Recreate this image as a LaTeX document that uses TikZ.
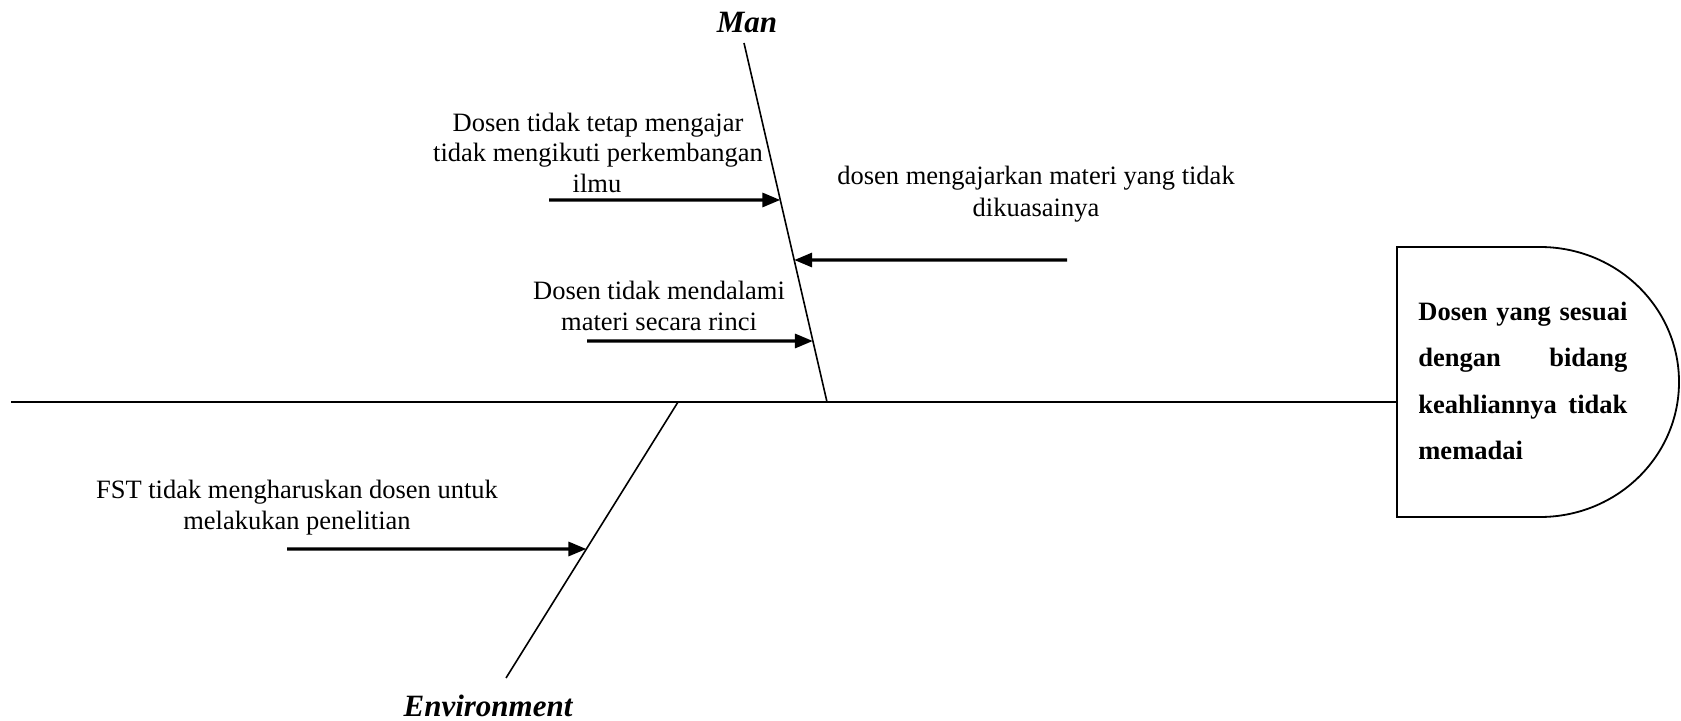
\documentclass[tikz,border=0pt]{standalone}
\usepackage{fontspec}
\setmainfont{Liberation Serif}
\usetikzlibrary{arrows.meta,calc}

\begin{document}
\begin{tikzpicture}[x=0.5pt,y=-0.5pt,
  spine/.style={line width=0.9pt},
  bone/.style={line width=0.8pt},
  cause/.style={line width=1.6pt,-{Triangle[length=9pt,width=7pt]}},
  txt/.style={font=\fontsize{13.25}{15.5}\selectfont, inner sep=0pt, anchor=base},
  cat/.style={font=\fontsize{15.5}{18}\selectfont\bfseries\itshape, inner sep=0pt, anchor=base},
  eff/.style={font=\fontsize{13.25}{16}\selectfont\bfseries, inner sep=0pt, anchor=base west},
]
\useasboundingbox (0,0) rectangle (1681,721);

% effect box: square left side, rounded right side
\draw[line width=0.9pt] (1397,247) -- (1540,247)
  arc[start angle=-90, end angle=90, x radius=139, y radius=135]
  -- (1397,517) -- cycle;
\coordinate (boxJoin) at (1397,402);
\node[eff] (e1) at (1418,321) {\hbox to 104.5pt{Dosen\hfill yang\hfill sesuai}};
\node[eff] (e2) at (1418,367) {\hbox to 104.5pt{dengan\hfill bidang}};
\node[eff] (e3) at (1418,414) {\hbox to 104.5pt{keahliannya\hfill tidak}};
\node[eff] (e4) at (1418,459) {memadai};

% main spine
\coordinate (spineL) at (11,402);
\draw[spine] (spineL) -- (boxJoin);

% Man bone
\coordinate (manTop) at (744,43);
\coordinate (manFoot) at (827,402);
\draw[bone] (manTop) -- (manFoot);
\node[cat] (man) at (747,33) {Man};

% Environment bone
\coordinate (envTop) at (678,402);
\coordinate (envEnd) at (506,678);
\draw[bone] (envTop) -- (envEnd);
\node[cat] (env) at (488,716) {Environment};

% causes on the Man bone
\coordinate (s1) at (549,200);
\draw[cause] (s1) -- ($(manTop)!0.4373!(manFoot)$);
\node[txt] (c1a) at (598,132) {Dosen tidak tetap mengajar};
\node[txt] (c1b) at (598,162) {tidak mengikuti perkembangan};
\node[txt] (c1c) at (597,193) {ilmu};

\coordinate (s2) at (1067,260);
\draw[cause] (s2) -- ($(manTop)!0.6045!(manFoot)$);
\node[txt] (c2a) at (1036,185) {dosen mengajarkan materi yang tidak};
\node[txt] (c2b) at (1036,217) {dikuasainya};

\coordinate (s3) at (587,341);
\draw[cause] (s3) -- ($(manTop)!0.8301!(manFoot)$);
\node[txt] (c3a) at (659,300) {Dosen tidak mendalami};
\node[txt] (c3b) at (659,331) {materi secara rinci};

% cause on the Environment bone
\coordinate (s4) at (287,549);
\draw[cause] (s4) -- ($(envTop)!0.5326!(envEnd)$);
\node[txt] (c4a) at (297,498) {FST tidak mengharuskan dosen untuk};
\node[txt] (c4b) at (297,529) {melakukan penelitian};
\end{tikzpicture}
\end{document}
